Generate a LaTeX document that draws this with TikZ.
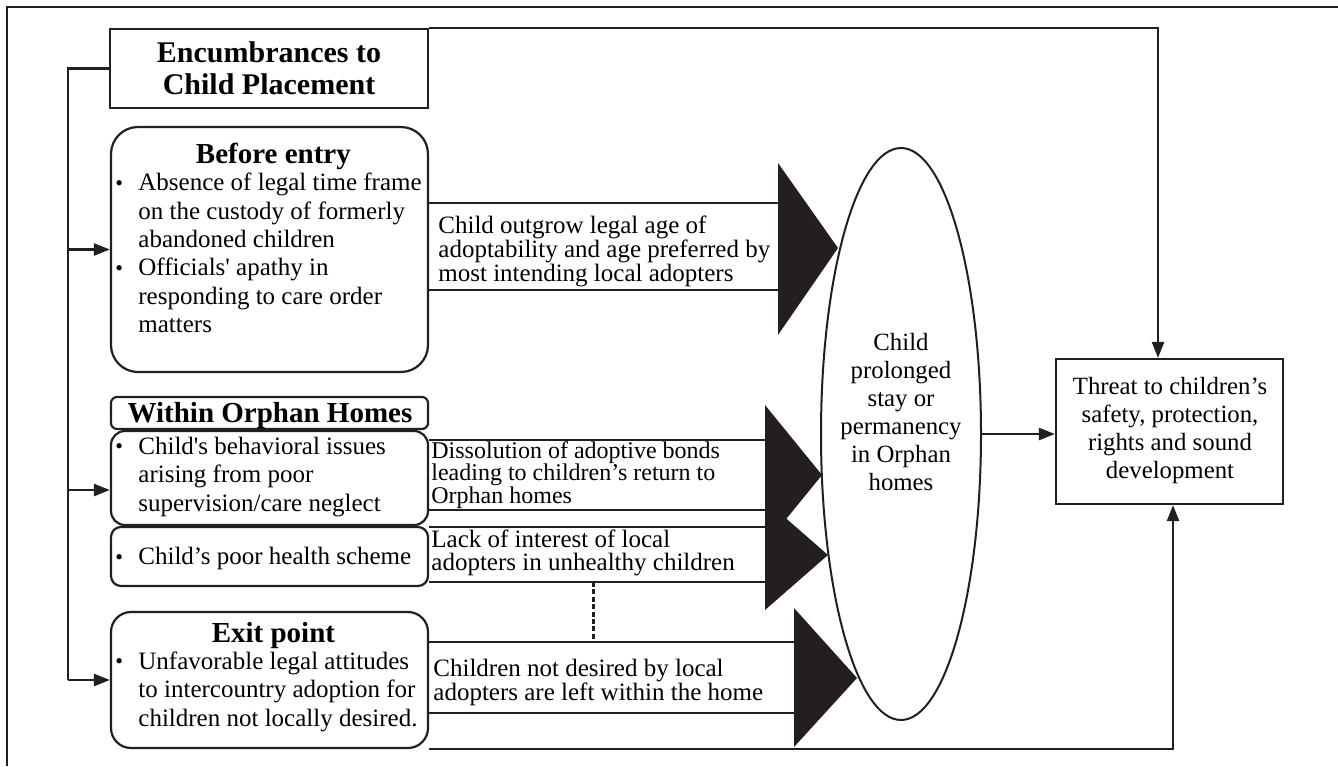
\documentclass[tikz,border=0pt]{standalone}
\usepackage{fontspec}
\setmainfont{Liberation Serif}
\usetikzlibrary{arrows.meta,positioning,shapes.geometric,fit,calc}
\definecolor{ink}{HTML}{231F20}
\newcommand{\bul}{\makebox[11.5pt][l]{\raisebox{0.3pt}{\fontsize{11}{11}\selectfont\textbullet}}}
\newcommand{\boxtitle}[1]{{\centering\fontsize{14.5}{16}\selectfont\bfseries #1\par}\vspace{-0.8pt}}
\newcommand{\tightlines}{\lineskiplimit-20pt\relax\lineskip0pt\relax}
\tikzset{
  encbox/.style = {draw=ink, line width=1.1pt, inner sep=0pt},
  roundbox/.style = {draw=ink, line width=1.1pt, inner sep=0pt, rounded corners=#1},
  roundbox/.default = 5pt,
  titletext/.style = {inner sep=0pt, align=center, font=\fontsize{14.5}{16}\selectfont\bfseries},
  boxtext/.style = {anchor=north west, inner sep=0pt, text width=158pt, align=flush left, font=\fontsize{12.5}{14.2}\selectfont},
  shafttext/.style = {anchor=west, inner sep=0pt, align=flush left, font=\fontsize{12.5}{#1}\selectfont\tightlines},
  shaftline/.style = {draw=ink, line width=1pt},
  headfill/.style = {fill=ink},
  flowline/.style = {draw=ink, line width=1.2pt},
  flowarrow/.style = {draw=ink, line width=1.2pt, -{Triangle[length=8pt,width=6pt]}},
}
\begin{document}
\begin{tikzpicture}[x=0.5pt, y=-0.5pt]
\useasboundingbox (0,0) rectangle (1338,766);
% frame
\draw[ink, line width=0.7pt] (7,766) -- (7,7) -- (1338,7);

% boxes on the left
\node[encbox, fit={(110,29) (428,108)}] (enc) {};
\node[titletext, font=\fontsize{15}{16}\selectfont\bfseries] (enc-txt) at (enc.center) {Encumbrances to\\Child Placement};
\node[roundbox=13.5pt, fit={(111,127) (428,372)}] (before) {};
\node[roundbox=3pt, fit={(111,397) (428,429)}] (within) {};
\node[titletext] (within-txt) at (270,416) {Within Orphan Homes};
\node[roundbox=7pt, fit={(111,431) (428,525)}] (behav) {};
\node[roundbox=5pt, fit={(111,527) (428,586)}] (health) {};
\node[roundbox=10pt, fit={(111,612) (428,748)}] (exit) {};

\node[boxtext] (before-txt) at (115,143) {\boxtitle{Before entry}
\noindent\begin{tabular}[t]{@{}l@{}l@{}}
\bul & Absence of legal time frame\\
 & on the custody of formerly\\
 & abandoned children\\
\bul & Officials\textquotesingle\ apathy in\\
 & responding to care order\\
 & matters
\end{tabular}};
\node[boxtext] (behav-txt) at (115,434) {\noindent\begin{tabular}[t]{@{}l@{}l@{}}
\bul & Child\textquotesingle s behavioral issues\\
 & arising from poor\\
 & supervision/care neglect
\end{tabular}};
\node[boxtext, anchor=west] (health-txt) at (115,559) {\noindent\begin{tabular}[t]{@{}l@{}l@{}}
\bul & Child’s poor health scheme
\end{tabular}};
\node[boxtext] (exit-txt) at (115,622) {\boxtitle{Exit point}
\noindent\begin{tabular}[t]{@{}l@{}l@{}}
\bul & Unfavorable legal attitudes\\
 & to intercountry adoption for\\
 & children not locally desired.
\end{tabular}};

% left rail
\coordinate (rail) at (68,0);
\draw[flowline] (enc.west) -| (rail |- exit.west);
\draw[flowarrow] (rail |- exit.west) -- (exit.west);
\draw[flowarrow] (rail |- before.west) -- (before.west);
\draw[flowarrow] (rail |- 0,490) -- (behav.west |- 0,490);

% block arrows
\draw[shaftline] (before.east |- 0,203) -- (778,203) (before.east |- 0,290) -- (778,290);
\draw[shaftline] (behav.east |- 0,440) -- (765,440) (behav.east |- 0,510) -- (765,510);
\draw[shaftline] (health.east |- 0,527) -- (765,527) (health.east |- 0,582) -- (765,582);
\draw[shaftline] (exit.east |- 0,642) -- (794,642) (exit.east |- 0,713) -- (794,713);
\fill[headfill] (778,163) -- (838,248) -- (778,335) -- cycle;
\fill[headfill] (765,405) -- (822,475) -- (765,545) -- cycle;
\fill[headfill] (765,500) -- (828,555) -- (765,610) -- cycle;
\fill[headfill] (794,608) -- (857,678) -- (794,747) -- cycle;
\draw[ink, line width=1.5pt, dash pattern=on 2.5pt off 1.2pt] (593,582) -- (593,642);

\node[shafttext=12] (lbl-age) at (438,251) {Child outgrow legal age of\\adoptability and age preferred by\\most intending local adopters};
\node[shafttext=11.3, font=\fontsize{12}{11.3}\selectfont\tightlines] (lbl-bond) at (431,475) {Dissolution of adoptive bonds\\leading to children’s return to\\Orphan homes};
\node[shafttext=11.5] (lbl-health) at (431,553) {Lack of interest of local\\adopters in unhealthy children};
\node[shafttext=12] (lbl-exit) at (433,682) {Children not desired by local\\adopters are left within the home};

% right side
\node[ellipse, draw=ink, line width=1pt, minimum width=80pt, minimum height=286pt, inner sep=0pt] (stay) at (901,434) {};
\node[align=center, inner sep=0pt, font=\fontsize{12.4}{14}\selectfont] (stay-txt) at (901,412) {Child\\prolonged\\stay or\\permanency\\in Orphan\\homes};
\node[encbox, fit={(1056,359) (1283,504)}] (threat) {};
\node[align=center, inner sep=0pt, font=\fontsize{12.4}{14}\selectfont] (threat-txt) at (1170,431) {Threat to children’s\\safety, protection,\\rights and sound\\development};

\draw[flowarrow] (stay.east) -- (stay.east -| threat.west);
\draw[flowarrow] (enc.north east) -| ([xshift=-5.75pt]threat.north);
\draw[flowarrow] (exit.south east) -| ([xshift=1.75pt]threat.south);
\end{tikzpicture}
\end{document}
